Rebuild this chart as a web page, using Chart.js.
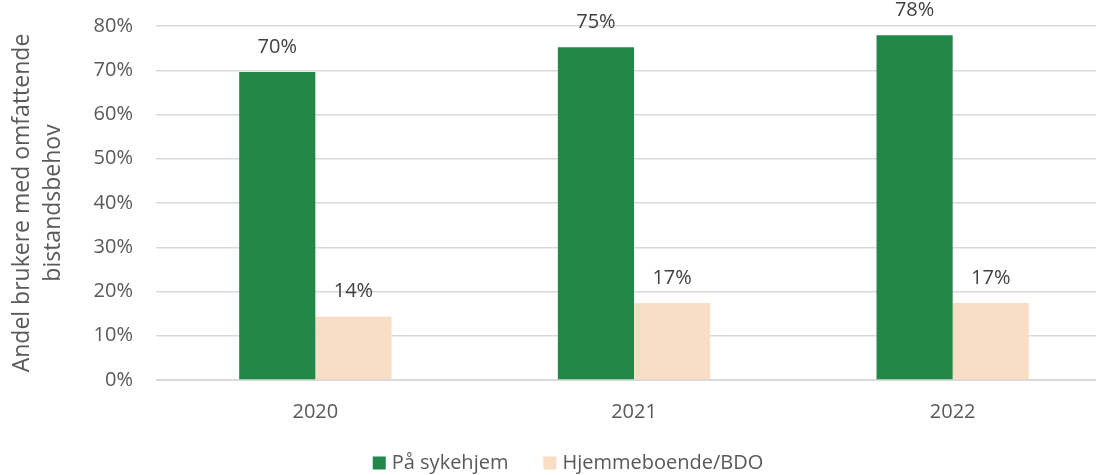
<!DOCTYPE html>
<html>
<head>
<meta charset="utf-8">
<script src="https://cdn.jsdelivr.net/npm/chart.js@4"></script>
<style>
  html, body { margin: 0; padding: 0; background: #fff; overflow: hidden; }
  #wrap { width: 1096px; height: 475px; overflow: hidden; }
</style>
</head>
<body>
<div id="wrap"><canvas id="chart" width="1112" height="475"></canvas></div>
<script>
const years = ['2020', '2021', '2022'];
const sykehjem = [69.6, 75.2, 77.9];
const hjemme = [14.3, 17.4, 17.4];
const yTicks = [0, 10, 20, 30, 40, 50, 60, 70, 80];

const textColor = '#595959';
const fontFamily = '"Open Sans", "DejaVu Sans", sans-serif';

// draws the % labels above each bar
const barLabels = {
  id: 'barLabels',
  afterDatasetsDraw(chart) {
    const ctx = chart.ctx;
    ctx.save();
    ctx.font = '20px ' + fontFamily;
    ctx.fillStyle = '#404040';
    ctx.textAlign = 'center';
    ctx.textBaseline = 'middle';
    chart.data.datasets.forEach((ds, i) => {
      chart.getDatasetMeta(i).data.forEach((bar, j) => {
        ctx.fillText(Math.round(ds.data[j]) + '%', bar.x, bar.y - 25);
      });
    });
    ctx.restore();
  }
};

// legend at the bottom, Excel style spacing
const bottomLegend = {
  id: 'bottomLegend',
  afterDraw(chart) {
    const ctx = chart.ctx;
    const box = 13, gap = 6, itemGap = 35, y = 463;
    ctx.save();
    ctx.font = '20px ' + fontFamily;
    ctx.textBaseline = 'middle';
    const items = chart.data.datasets.map(ds => ({
      label: ds.label, color: ds.backgroundColor, w: box + gap + ctx.measureText(ds.label).width
    }));
    const total = items.reduce((s, it) => s + it.w, 0) + itemGap * (items.length - 1);
    let x = chart.width / 2 + 12 - total / 2;
    items.forEach(it => {
      ctx.fillStyle = it.color;
      ctx.fillRect(x, y - box / 2, box, box);
      ctx.fillStyle = textColor;
      ctx.fillText(it.label, x + box + gap, y);
      x += it.w + itemGap;
    });
    ctx.restore();
  }
};

const ctx = document.getElementById('chart').getContext('2d');
new Chart(ctx, {
  type: 'bar',
  data: {
    labels: years,
    datasets: [
      { label: 'På sykehjem', data: sykehjem, backgroundColor: '#22884a' },
      { label: 'Hjemmeboende/BDO', data: hjemme, backgroundColor: '#f7dec4' }
    ]
  },
  options: {
    responsive: false,
    animation: false,
    layout: { padding: { top: 26, left: 0, right: 0, bottom: 0 } },
    datasets: { bar: { categoryPercentage: 0.478, barPercentage: 1 } },
    plugins: {
      tooltip: { enabled: false },
      legend: { display: false }
    },
    scales: {
      x: {
        grid: { display: false },
        border: { color: '#d9d9d9', width: 1 },
        ticks: { color: textColor, font: { family: fontFamily, size: 20 }, padding: 12 },
        afterFit(scale) { scale.height = 95; }
      },
      y: {
        min: 0,
        max: 80,
        afterBuildTicks(scale) { scale.ticks = yTicks.map(v => ({ value: v })); },
        grid: { color: '#d9d9d9', lineWidth: 1.5, drawTicks: false },
        border: { display: false },
        ticks: {
          color: textColor,
          font: { family: fontFamily, size: 20 },
          padding: 23,
          callback: v => v + '%'
        },
        title: {
          display: true,
          text: ['Andel brukere med omfattende', 'bistandsbehov'],
          color: textColor,
          font: { family: fontFamily, size: 23, lineHeight: 1.35 },
          padding: { top: 7, bottom: 0 }
        },
        afterFit(scale) {
          scale.width = 156;
          scale.paddingTop = 0;
          scale.paddingBottom = 0;
        }
      }
    }
  },
  plugins: [barLabels, bottomLegend]
});
</script>
</body>
</html>
